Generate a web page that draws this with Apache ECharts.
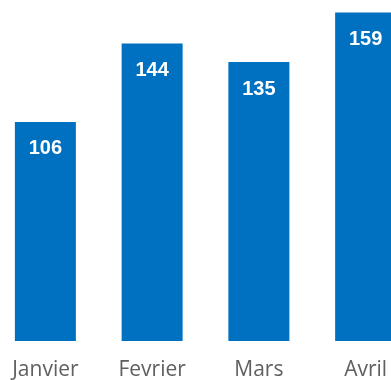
<!DOCTYPE html>
<html lang="fr">
<head>
    <meta charset="UTF-8">
    <title>Ventes mensuelles</title>
    <script src="https://cdn.jsdelivr.net/npm/echarts/dist/echarts.min.js"></script>
    <style>
        html, body { margin: 0; padding: 0; background: #fff; }
        #chart { width: 391px; height: 380px; }
    </style>
</head>
<body>
    <div id="chart"></div>
    <script type="text/javascript">
        // données du graphique
        var mois = ['Janvier', 'Fevrier', 'Mars', 'Avril'];
        var valeurs = [106, 144, 135, 159];

        var chart = echarts.init(document.getElementById('chart'));
        chart.setOption({
            animation: false,
            grid: {
                left: -8,
                top: 0,
                width: 427,
                height: 341,
                containLabel: false,
                outerBoundsMode: 'none'
            },
            xAxis: {
                type: 'category',
                data: mois,
                axisLine: { show: false },
                axisTick: { show: false },
                axisLabel: {
                    color: '#606060',
                    fontFamily: 'Open Sans',
                    fontSize: 21,
                    margin: 19
                }
            },
            yAxis: {
                type: 'value',
                min: 0,
                max: 165,
                show: false
            },
            series: [{
                type: 'bar',
                data: valeurs,
                barWidth: 61,
                itemStyle: { color: '#0070C0' },
                label: {
                    show: true,
                    position: 'insideTop',
                    distance: 17,
                    color: '#fff',
                    fontFamily: 'Liberation Sans',
                    fontWeight: 'bold',
                    fontSize: 20
                }
            }]
        });
    </script>
</body>
</html>
